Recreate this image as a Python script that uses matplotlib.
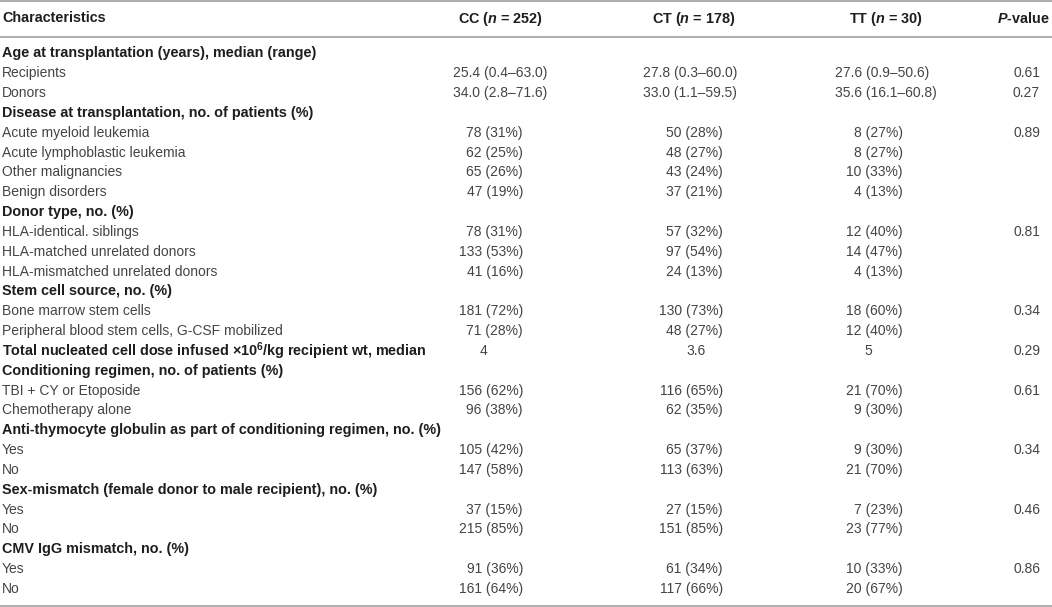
import matplotlib
matplotlib.use("Agg")
import matplotlib.pyplot as plt

plt.rcParams['font.family'] = ['Liberation Sans', 'DejaVu Sans']
plt.rcParams['mathtext.fontset'] = 'custom'
plt.rcParams['mathtext.rm'] = 'Liberation Sans:bold'
plt.rcParams['mathtext.it'] = 'Liberation Sans:bold:italic'
plt.rcParams['mathtext.bf'] = 'Liberation Sans:bold'

col_headers = ["Characteristics", "CC ($n$ = 252)", "CT ($n$ = 178)", "TT ($n$ = 30)", "$P$-value"]

row_labels = [
    "Age at transplantation (years), median (range)",
    "Recipients",
    "Donors",
    "Disease at transplantation, no. of patients (%)",
    "Acute myeloid leukemia",
    "Acute lymphoblastic leukemia",
    "Other malignancies",
    "Benign disorders",
    "Donor type, no. (%)",
    "HLA-identical. siblings",
    "HLA-matched unrelated donors",
    "HLA-mismatched unrelated donors",
    "Stem cell source, no. (%)",
    "Bone marrow stem cells",
    "Peripheral blood stem cells, G-CSF mobilized",
    r"Total nucleated cell dose infused $\times$10$^{6}$/kg recipient wt, median",
    "Conditioning regimen, no. of patients (%)",
    "TBI + CY or Etoposide",
    "Chemotherapy alone",
    "Anti-thymocyte globulin as part of conditioning regimen, no. (%)",
    "Yes",
    "No",
    "Sex-mismatch (female donor to male recipient), no. (%)",
    "Yes",
    "No",
    "CMV IgG mismatch, no. (%)",
    "Yes",
    "No",
]
is_bold = [1, 0, 0, 1, 0, 0, 0, 0, 1, 0, 0, 0, 1, 0, 0, 1, 1, 0, 0, 1, 0, 0, 1, 0, 0, 1, 0, 0]

cc = ["", "25.4 (0.4\u201363.0)", "34.0 (2.8\u201371.6)", "", "78 (31%)", "62 (25%)", "65 (26%)", "47 (19%)",
      "", "78 (31%)", "133 (53%)", "41 (16%)", "", "181 (72%)", "71 (28%)", "4", "", "156 (62%)", "96 (38%)",
      "", "105 (42%)", "147 (58%)", "", "37 (15%)", "215 (85%)", "", "91 (36%)", "161 (64%)"]
ct = ["", "27.8 (0.3\u201360.0)", "33.0 (1.1\u201359.5)", "", "50 (28%)", "48 (27%)", "43 (24%)", "37 (21%)",
      "", "57 (32%)", "97 (54%)", "24 (13%)", "", "130 (73%)", "48 (27%)", "3.6", "", "116 (65%)", "62 (35%)",
      "", "65 (37%)", "113 (63%)", "", "27 (15%)", "151 (85%)", "", "61 (34%)", "117 (66%)"]
tt = ["", "27.6 (0.9\u201350.6)", "35.6 (16.1\u201360.8)", "", "8 (27%)", "8 (27%)", "10 (33%)", "4 (13%)",
      "", "12 (40%)", "14 (47%)", "4 (13%)", "", "18 (60%)", "12 (40%)", "5", "", "21 (70%)", "9 (30%)",
      "", "9 (30%)", "21 (70%)", "", "7 (23%)", "23 (77%)", "", "10 (33%)", "20 (67%)"]
pval = ["", "0.61", "0.27", "", "0.89", "", "", "", "", "0.81", "", "", "", "0.34", "", "0.29", "", "0.61", "",
        "", "0.34", "", "", "0.46", "", "", "0.86", ""]

W, H = 1052, 607
fig = plt.figure(figsize=(W / 100, H / 100), dpi=100)
ax = fig.add_axes([0, 0, 1, 1])
ax.set_xlim(0, W)
ax.set_ylim(H, 0)
ax.axis('off')

body_color = '#444444'
bold_color = '#1e1e1e'
line_color = '#a8a8a8'
fs = 10.4
fs_body = 10.0

# horizontal rules
ax.hlines([1.2, 36.5, 605.5], 0, W, colors=line_color, linewidth=1.3)

# header
hy = 18.5
ax.text(2, hy, col_headers[0], ha='left', va='center', fontsize=fs, fontweight='bold', color=bold_color)
ax.text(500, hy, col_headers[1], ha='center', va='center', fontsize=fs, fontweight='bold', color=bold_color)
ax.text(694, hy, col_headers[2], ha='center', va='center', fontsize=fs, fontweight='bold', color=bold_color)
ax.text(886, hy, col_headers[3], ha='center', va='center', fontsize=fs, fontweight='bold', color=bold_color)
ax.text(1050, hy, col_headers[4], ha='right', va='center', fontsize=fs, fontweight='bold', color=bold_color)

y0, step = 53.5, 19.83
# column anchors: (range left, pct right, single center)
anchors = [(453, 523, 483), (643, 723, 696), (835, 903, 868)]

for i, lab in enumerate(row_labels):
    y = y0 + i * step
    if is_bold[i]:
        ax.text(2, y, lab, ha='left', va='center', fontsize=fs, fontweight='bold', color=bold_color)
    else:
        ax.text(2, y, lab, ha='left', va='center', fontsize=fs_body, color=body_color)
    for vals, (xl, xr, xc) in zip([cc, ct, tt], anchors):
        v = vals[i]
        if not v:
            continue
        if '\u2013' in v:
            ax.text(xl, y, v, ha='left', va='center', fontsize=fs_body, color=body_color)
        elif '%' in v:
            ax.text(xr, y, v, ha='right', va='center', fontsize=fs_body, color=body_color)
        else:
            ax.text(xc, y, v, ha='center', va='center', fontsize=fs_body, color=body_color)
    if pval[i]:
        ax.text(1040, y, pval[i], ha='right', va='center', fontsize=fs_body, color=body_color)

fig.savefig('out.png', dpi=100)
